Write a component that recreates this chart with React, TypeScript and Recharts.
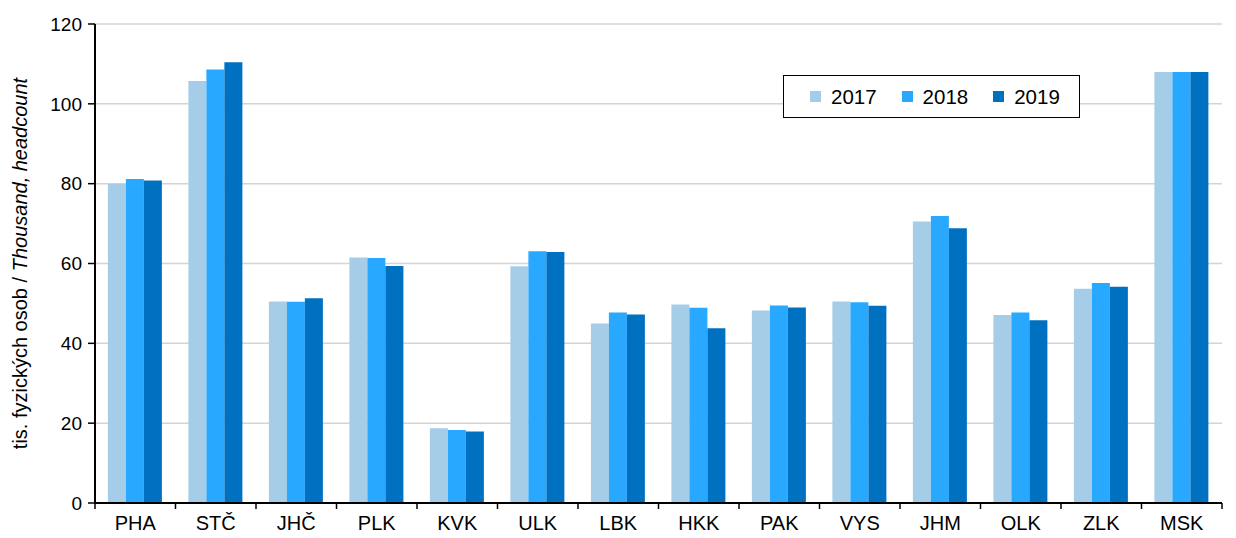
import React from "react";
import {
    BarChart,
    Bar,
    XAxis,
    YAxis,
    CartesianGrid,
    Label,
} from "recharts";

const regions = ["PHA", "STČ", "JHČ", "PLK", "KVK", "ULK", "LBK", "HKK", "PAK", "VYS", "JHM", "OLK", "ZLK", "MSK"];
const values2017 = [80.0, 105.7, 50.5, 61.5, 18.7, 59.3, 45.0, 49.7, 48.2, 50.5, 70.5, 47.1, 53.7, 108.0];
const values2018 = [81.2, 108.6, 50.4, 61.4, 18.3, 63.1, 47.7, 48.9, 49.5, 50.3, 71.9, 47.7, 55.1, 108.0];
const values2019 = [80.8, 110.4, 51.3, 59.4, 17.9, 62.9, 47.2, 43.8, 49.0, 49.4, 68.8, 45.8, 54.2, 108.0];
const yTicks = [0, 20, 40, 60, 80, 100, 120];

const series = [
    { key: "y2017", name: "2017", color: "#a6cde8" },
    { key: "y2018", name: "2018", color: "#29a8ff" },
    { key: "y2019", name: "2019", color: "#0070c0" },
];

const data = regions.map((r, i) => ({
    region: r,
    y2017: values2017[i],
    y2018: values2018[i],
    y2019: values2019[i],
}));

const WIDTH = 1236;
const HEIGHT = 538;
const MARGIN = { top: 24, right: 14, left: 0, bottom: 0 };
const Y_AXIS_W = 95;
const X_AXIS_H = 35;
const FONT = "Liberation Sans, Arial, sans-serif";

// tick marks sit between categories, like the original spreadsheet chart
const bandWidth = (WIDTH - MARGIN.left - MARGIN.right - Y_AXIS_W) / regions.length;

function XTick(props: any) {
    const { x, y, payload, index } = props;
    // recharts hands us y = axis + tickSize + tickMargin (8px)
    const axisY = y - 8;
    return (
        <g>
            <line x1={x - bandWidth / 2} x2={x - bandWidth / 2} y1={axisY} y2={axisY + 6} stroke="#000" strokeWidth={1.5} />
            {index === regions.length - 1 && (
                <line x1={x + bandWidth / 2} x2={x + bandWidth / 2} y1={axisY} y2={axisY + 6} stroke="#000" strokeWidth={1.5} />
            )}
            <text x={x} y={axisY + 27} textAnchor="middle" fontSize={20} fontFamily={FONT} fill="#000">
                {payload.value}
            </text>
        </g>
    );
}

function YAxisTitle(props: any) {
    const { viewBox } = props;
    const cx = 20;
    const cy = viewBox.y + viewBox.height / 2;
    return (
        <text
            x={cx}
            y={cy}
            transform={`rotate(-90, ${cx}, ${cy})`}
            textAnchor="middle"
            dominantBaseline="central"
            fontSize={20}
            fontFamily={FONT}
            fill="#000"
        >
            <tspan>tis. fyzických osob / </tspan>
            <tspan fontStyle="italic">Thousand, headcount</tspan>
        </text>
    );
}

function LegendBox() {
    return (
        <div
            style={{
                position: "absolute",
                left: 783,
                top: 75,
                border: "1.5px solid #000",
                background: "#fff",
                display: "flex",
                alignItems: "center",
                height: 43,
                width: 297,
                boxSizing: "border-box",
                paddingLeft: 26,
                fontFamily: FONT,
                fontSize: 20.5,
                color: "#000",
            }}
        >
            {series.map((s) => (
                <div key={s.key} style={{ display: "flex", alignItems: "center", marginRight: 25 }}>
                    <span style={{ width: 11, height: 11, background: s.color, display: "inline-block", marginRight: 10 }} />
                    <span>{s.name}</span>
                </div>
            ))}
        </div>
    );
}

export default function App() {
    return (
        <div style={{ position: "absolute", left: 0, top: 0, width: WIDTH, height: HEIGHT, background: "#fff" }}>
            <BarChart
                width={WIDTH}
                height={HEIGHT}
                data={data}
                margin={MARGIN}
                barCategoryGap="16%"
                barGap={0}
            >
                <CartesianGrid vertical={false} stroke="#d4d4d4" strokeWidth={1.5} />
                <XAxis
                    dataKey="region"
                    height={X_AXIS_H}
                    tickLine={false}
                    axisLine={{ stroke: "#000", strokeWidth: 2 }}
                    tick={<XTick />}
                    interval={0}
                />
                <YAxis
                    width={Y_AXIS_W}
                    domain={[0, 120]}
                    ticks={yTicks}
                    interval={0}
                    tickSize={7}
                    tickLine={{ stroke: "#000", strokeWidth: 1.5 }}
                    axisLine={{ stroke: "#000", strokeWidth: 2 }}
                    tick={{ fontSize: 19, fontFamily: FONT, fill: "#000" }}
                    tickMargin={6}
                >
                    <Label content={<YAxisTitle />} />
                </YAxis>
                {series.map((s) => (
                    <Bar
                        key={s.key}
                        dataKey={s.key}
                        name={s.name}
                        fill={s.color}
                        isAnimationActive={false}
                    />
                ))}
            </BarChart>
            <LegendBox />
        </div>
    );
}
